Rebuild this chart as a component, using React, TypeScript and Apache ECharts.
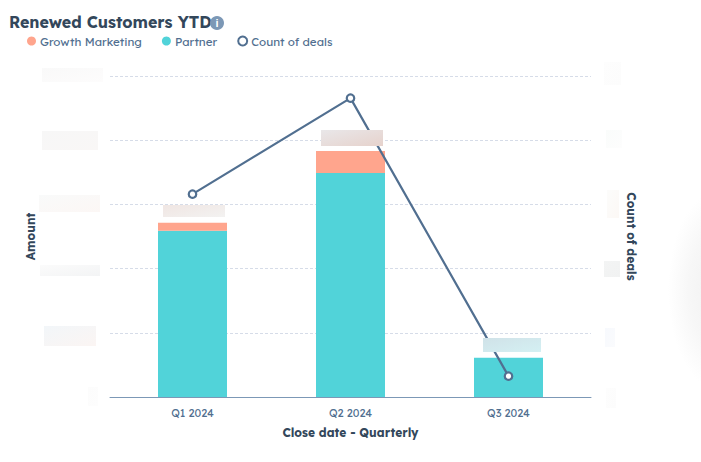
import React, { useEffect, useRef } from "react";
import * as echarts from "echarts";

const categories = ["Q1 2024", "Q2 2024", "Q3 2024"];
const partner = [259, 349, 61];
const growthMarketing = [12.5, 34, 0];
const countOfDeals = [63.2, 93.1, 6.5];
const FONT = "Lexend Deca, Lato, 'Noto Sans', sans-serif";

const blur = (x: number, y: number, w: number, h: number, c1: string, c2: string, z = 20) => ({
  type: "rect",
  z,
  shape: { x, y, width: w, height: h },
  style: {
    fill: new echarts.graphic.LinearGradient(0, 0, 1, 1, [
      { offset: 0, color: c1 },
      { offset: 1, color: c2 },
    ]),
  },
});

const patches = [
  blur(42, 68, 61, 14, "#f9f9f9", "#fdfcfc"),
  blur(42, 131, 56, 19, "#f7f7f7", "#f9f7f6"),
  blur(39, 195, 61, 17, "#f9fafa", "#fcf7f5"),
  blur(40, 265, 60, 11, "#fbfbfb", "#f3f4f5"),
  blur(44, 326, 52, 20, "#f2f6f9", "#fbf5f3"),
  blur(88, 387, 10, 19, "#fcfcfc", "#fdfdfd"),
  blur(604, 62, 17, 23, "#fdfdfd", "#fcfcfc"),
  blur(606, 130, 16, 18, "#fafcfb", "#fdfdfd"),
  blur(607, 190, 12, 28, "#fcfcfb", "#fcf8f5"),
  blur(604, 261, 16, 16, "#f3f4f4", "#f1f2f2"),
  blur(605, 328, 10, 19, "#f7f9fd", "#fafbfd"),
  blur(606, 388, 10, 20, "#fdfdfd", "#fcfcfc"),
  blur(163, 205, 62, 12, "#f0e6e3", "#f3f2f1"),
  blur(321, 130, 62, 16, "#e9e7e9", "#e6d2cc"),
  blur(483, 338, 58, 14, "#d0e2e8", "#d4f0f3"),
];

export default function App() {
  const ref = useRef<HTMLDivElement>(null);
  useEffect(() => {
    const chart = echarts.init(ref.current!, null, { renderer: "svg" });
    chart.setOption({
      animation: false,
      backgroundColor: "#ffffff",
      textStyle: { fontFamily: FONT },
      title: {
        text: "Renewed Customers YTD",
        left: 9,
        top: 14,
        padding: 0,
        textStyle: { fontFamily: FONT, fontSize: 16, fontWeight: "bold", color: "#33475b" },
      },
      legend: {
        left: 27,
        top: 35,
        padding: 0,
        itemWidth: 9,
        itemHeight: 9,
        itemGap: 20,
        textStyle: { fontFamily: FONT, fontSize: 11.6, color: "#516f90", padding: [0, 0, 0, -1] },
        data: [
          { name: "Growth Marketing", icon: "circle" },
          { name: "Partner", icon: "circle" },
          {
            name: "Count of deals",
            icon: "circle",
            itemStyle: { color: "#ffffff", borderColor: "#516f90", borderWidth: 2 },
          },
        ],
      },
      grid: [
        { left: 113.5, width: 474, top: 76, height: 321 },
        { left: 110, width: 481, top: 76, height: 321 },
      ],
      xAxis: [
        {
          type: "category",
          gridIndex: 0,
          data: categories,
          axisLine: { show: false },
          axisTick: { show: false },
          axisLabel: { fontFamily: FONT, fontSize: 11, color: "#516f90", margin: 10 },
          name: "Close date - Quarterly",
          nameLocation: "middle",
          nameGap: 29,
          nameTextStyle: { fontFamily: FONT, fontSize: 12, fontWeight: "bold", color: "#33475b" },
        },
        {
          type: "category",
          gridIndex: 1,
          data: categories,
          axisLine: { show: true, lineStyle: { color: "#7c98b6", width: 1 } },
          axisTick: { show: false },
          axisLabel: { show: false },
        },
      ],
      yAxis: [
        {
          type: "value",
          gridIndex: 0,
          min: 0,
          max: 500,
          interval: 100,
          axisLabel: { show: false },
          splitLine: { show: false },
          axisLine: { show: false },
          axisTick: { show: false },
          name: "Amount",
          nameLocation: "middle",
          nameGap: 77,
          nameTextStyle: { fontFamily: FONT, fontSize: 12, fontWeight: "bold", color: "#33475b" },
        },
        {
          type: "value",
          gridIndex: 0,
          position: "right",
          min: 0,
          max: 100,
          interval: 20,
          axisLabel: { show: false },
          splitLine: { show: false },
          axisLine: { show: false },
          axisTick: { show: false },
          name: "Count of deals",
          nameLocation: "middle",
          nameRotate: -90,
          nameGap: 38,
          nameTextStyle: { fontFamily: FONT, fontSize: 12, fontWeight: "bold", color: "#33475b" },
        },
        {
          type: "value",
          gridIndex: 1,
          min: 0,
          max: 500,
          interval: 100,
          axisLabel: { show: false },
          axisLine: { show: false },
          axisTick: { show: false },
          splitLine: { show: true, lineStyle: { color: "#d6dce8", type: [3, 2], width: 1 } },
        },
      ],
      series: [
        {
          name: "Partner",
          type: "bar",
          stack: "amount",
          xAxisIndex: 0,
          yAxisIndex: 0,
          barWidth: 69,
          z: 3,
          data: partner,
          itemStyle: { color: "#51d3d9" },
        },
        {
          name: "Growth Marketing",
          type: "bar",
          stack: "amount",
          xAxisIndex: 0,
          yAxisIndex: 0,
          barWidth: 69,
          z: 3,
          data: growthMarketing,
          itemStyle: { color: "#ffa58d" },
        },
        {
          name: "Count of deals",
          type: "line",
          xAxisIndex: 0,
          yAxisIndex: 1,
          z: 5,
          data: countOfDeals,
          symbol: "circle",
          symbolSize: 7.5,
          showSymbol: true,
          lineStyle: { color: "#516f90", width: 2.2 },
          itemStyle: { color: "#ffffff", borderColor: "#516f90", borderWidth: 2.2 },
        },
      ],
      graphic: [
        ...patches,
        {
          type: "circle",
          z: 20,
          shape: { cx: 217, cy: 23, r: 7 },
          style: { fill: "#7c98b6" },
        },
        {
          type: "text",
          z: 21,
          x: 217,
          y: 23,
          style: {
            text: "i",
            fill: "#ffffff",
            fontFamily: "Liberation Sans",
            fontWeight: "bold",
            fontSize: 11,
            align: "center",
            verticalAlign: "middle",
          },
        },
        {
          type: "ellipse",
          z: 1,
          shape: { cx: 720, cy: 290, rx: 52, ry: 100 },
          style: {
            fill: new echarts.graphic.RadialGradient(0.5, 0.5, 0.5, [
              { offset: 0, color: "#f0f0f0" },
              { offset: 0.6, color: "#f7f7f7" },
              { offset: 1, color: "#ffffff" },
            ]),
          },
        },
      ],
    });
    return () => chart.dispose();
  }, []);
  return <div ref={ref} style={{ position: "absolute", left: 0, top: 0, width: 701, height: 462 }} />;
}
